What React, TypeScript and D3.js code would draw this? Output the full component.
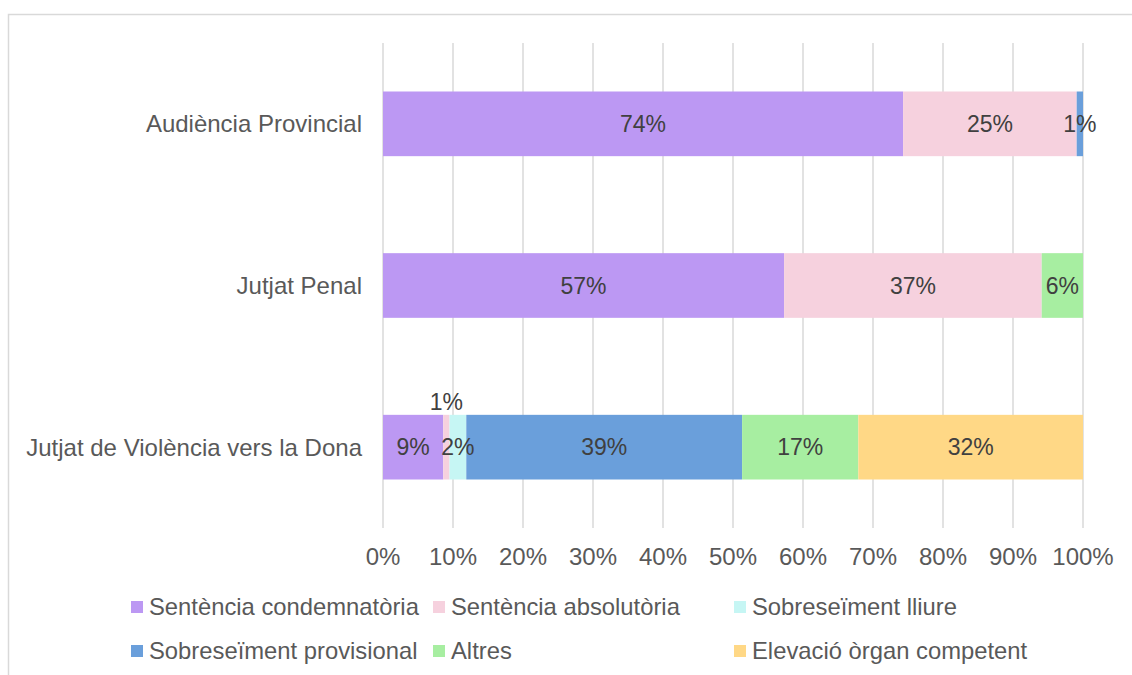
import React from "react";
import * as d3 from "d3";

// Categories (top to bottom)
const categories = ["Audiència Provincial", "Jutjat Penal", "Jutjat de Violència vers la Dona"];

// Series names, in stack order
const seriesNames = [
    "Sentència condemnatòria",
    "Sentència absolutòria",
    "Sobreseïment lliure",
    "Sobreseïment provisional",
    "Altres",
    "Elevació òrgan competent",
];

// Shares in % per category, same order as seriesNames
const audienciaValues = [74.3, 24.8, 0, 0.9, 0, 0];
const penalValues = [57.3, 36.8, 0, 0, 5.9, 0];
const violenciaValues = [8.6, 0.9, 2.4, 39.4, 16.6, 32.1];

const tickValues = [0, 10, 20, 30, 40, 50, 60, 70, 80, 90, 100];

const colors = ["#BC98F3", "#F6D1DE", "#C6F6F4", "#6A9FDB", "#A7EEA1", "#FFD886"];

const W = 1132;
const H = 675;
const FONT = "'Liberation Sans', Arial, sans-serif";

const App: React.FC = () => {
    const rows = [audienciaValues, penalValues, violenciaValues];

    const x = d3.scaleLinear().domain([0, 100]).range([383, 1083]);
    const y = d3.scaleBand().domain(categories).range([43, 528]).paddingInner(0.6).paddingOuter(0.3);

    // stacked layout
    const table = categories.map((c, i) => {
        const o: any = { cat: c };
        seriesNames.forEach((s, j) => (o[s] = rows[i][j]));
        return o;
    });
    const stacked = d3.stack<any>().keys(seriesNames)(table);

    return (
        <svg width={W} height={H} style={{ position: "absolute", left: 0, top: 0, fontFamily: FONT }}>
            <rect x={0} y={0} width={W} height={H} fill="#fff" />
            <rect x={8.5} y={14.5} width={W + 10} height={H} fill="none" stroke="#D9D9D9" strokeWidth={1.5} />

            {/* gridlines */}
            {tickValues.map((t) => (
                <line key={t} x1={x(t)} x2={x(t)} y1={43} y2={528} stroke="#D9D9D9" strokeWidth={1.5} />
            ))}

            {/* bars */}
            {stacked.map((layer, j) => (
                <g key={seriesNames[j]} fill={colors[j]}>
                    {layer.map((d, i) =>
                        d[1] - d[0] > 0 ? (
                            <rect
                                key={i}
                                x={x(d[0])}
                                y={y(categories[i])!}
                                width={x(d[1]) - x(d[0])}
                                height={y.bandwidth()}
                            />
                        ) : null
                    )}
                </g>
            ))}

            {/* data labels */}
            {stacked.map((layer, j) =>
                layer.map((d, i) => {
                    const v = d[1] - d[0];
                    if (v <= 0) return null;
                    const w = x(d[1]) - x(d[0]);
                    const isLast = d[1] >= 99.95;
                    const above = w < 12 && !isLast;
                    const cx = (x(d[0]) + x(d[1])) / 2;
                    const cy = above ? y(categories[i])! - 13 : y(categories[i])! + y.bandwidth() / 2;
                    return (
                        <text
                            key={`${j}-${i}`}
                            x={cx}
                            y={cy}
                            dy="0.35em"
                            textAnchor="middle"
                            fontSize={23}
                            fill="#404040"
                        >
                            {Math.round(v)}%
                        </text>
                    );
                })
            )}

            {/* category labels */}
            {categories.map((c) => (
                <text
                    key={c}
                    x={362}
                    y={y(c)! + y.bandwidth() / 2}
                    dy="0.35em"
                    textAnchor="end"
                    fontSize={24}
                    fill="#595959"
                >
                    {c}
                </text>
            ))}

            {/* x axis ticks */}
            {tickValues.map((t) => (
                <text key={t} x={x(t)} y={557} dy="0.35em" textAnchor="middle" fontSize={24} fill="#595959">
                    {t}%
                </text>
            ))}

            {/* legend */}
            {seriesNames.map((s, j) => {
                const col = j % 3;
                const row = Math.floor(j / 3);
                const lx = [131, 433, 734][col];
                const ly = [607, 651][row];
                return (
                    <g key={s}>
                        <rect x={lx} y={ly - 6} width={12} height={12} fill={colors[j]} />
                        <text x={lx + 18} y={ly} dy="0.35em" fontSize={23.8} fill="#595959">
                            {s}
                        </text>
                    </g>
                );
            })}
        </svg>
    );
};

export default App;
